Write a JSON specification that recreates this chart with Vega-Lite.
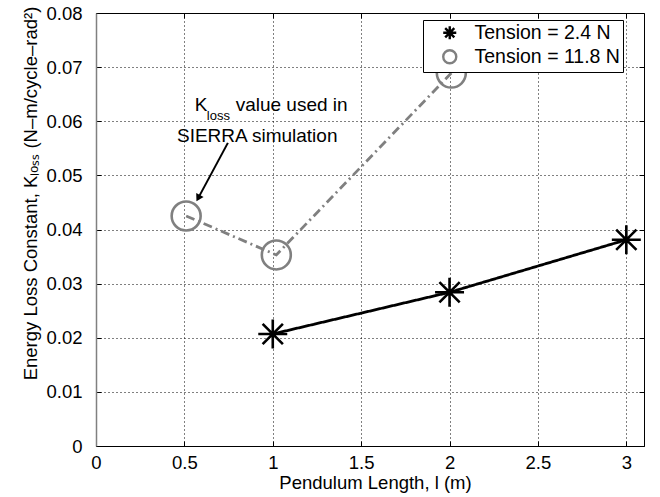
{
  "$schema": "https://vega.github.io/schema/vega-lite/v6.json",
  "autosize": {"type": "none"},
  "width": 548,
  "height": 433,
  "padding": {"left": 96, "top": 13, "right": 16, "bottom": 51},
  "background": "white",
  "config": {
    "font": "Liberation Sans",
    "view": {"stroke": "black", "strokeWidth": 1},
    "axis": {
      "labelFont": "Liberation Sans",
      "titleFont": "Liberation Sans",
      "labelFontSize": 18.5,
      "titleFontSize": 18.5,
      "labelColor": "black",
      "titleColor": "black",
      "titleFontWeight": "normal",
      "domainColor": "black",
      "tickColor": "black",
      "tickWidth": 1,
      "gridColor": "black",
      "gridDash": [1, 3],
      "gridOpacity": 1,
      "gridWidth": 1
    },
    "legend": {
      "title": null,
      "orient": "none",
      "legendX": 327,
      "legendY": 7,
      "fillColor": "white",
      "strokeColor": "black",
      "padding": 3,
      "rowPadding": 0,
      "labelFont": "Liberation Sans",
      "labelFontSize": 19.5,
      "labelColor": "black",
      "labelOffset": 15,
      "symbolOffset": 14,
      "symbolSize": 170,
      "symbolStrokeWidth": 2.4
    }
  },
  "datasets": {
    "measurements": [
      {"length": 1, "kloss": 0.0207, "series": "Tension = 2.4 N"},
      {"length": 2, "kloss": 0.0284, "series": "Tension = 2.4 N"},
      {"length": 3, "kloss": 0.0381, "series": "Tension = 2.4 N"},
      {"length": 0.51, "kloss": 0.0425, "series": "Tension = 11.8 N"},
      {"length": 1.02, "kloss": 0.0353, "series": "Tension = 11.8 N"},
      {"length": 2.01, "kloss": 0.0689, "series": "Tension = 11.8 N"}
    ],
    "notes": [
      {"x": 0.559, "y": 0.0619, "text": "K"},
      {"x": 0.79, "y": 0.0619, "text": "value used in"}
    ],
    "subscript": [
      {"x": 0.627, "y": 0.0603, "text": "loss"}
    ],
    "notes2": [
      {"x": 0.912, "y": 0.0562, "text": "SIERRA simulation"}
    ],
    "arrow": [
      {"x": 0.746, "y": 0.056, "x2": 0.578, "y2": 0.0458}
    ]
  },
  "layer": [
    {
      "data": {"name": "measurements"},
      "mark": {"type": "line", "strokeWidth": 2.8},
      "encoding": {
        "x": {
          "field": "length", "type": "quantitative",
          "scale": {"domain": [0, 3.1], "nice": false, "zero": false},
          "axis": {
            "orient": "bottom",
            "values": [0, 0.5, 1, 1.5, 2, 2.5, 3],
            "format": "~g",
            "grid": true,
            "ticks": true,
            "tickSize": -5,
            "labelPadding": 12,
            "labelFlush": false,
            "title": "Pendulum Length, l (m)",
            "titleX": 279,
            "titlePadding": 2
          }
        },
        "y": {
          "field": "kloss", "type": "quantitative",
          "scale": {"domain": [0, 0.08], "nice": false},
          "axis": {
            "orient": "left",
            "values": [0, 0.01, 0.02, 0.03, 0.04, 0.05, 0.06, 0.07, 0.08],
            "labelExpr": "datum.value === 0 ? '0' : format(datum.value, '.2f')",
            "grid": true,
            "ticks": true,
            "tickSize": -5,
            "labelPadding": 19,
            "labelFlush": false,
            "domainColor": "#808080",
            "domainWidth": 1.5,
            "title": "Energy Loss Constant, Kₗₒₛₛ (N–m/cycle–rad²)",
            "titleX": -60,
            "titleY": 180,
            "titleAlign": "center",
            "titleBaseline": "alphabetic",
            "titleAngle": -90
          }
        },
        "stroke": {
          "field": "series", "type": "nominal",
          "scale": {"range": ["#808080", "black"]},
          "legend": null
        },
        "strokeDash": {
          "field": "series", "type": "nominal",
          "scale": {"range": [[9, 4, 2, 4], [1, 0]]},
          "legend": null
        }
      }
    },
    {
      "data": {"name": "measurements"},
      "mark": {"type": "point", "filled": false, "strokeWidth": 2.6, "size": 840, "opacity": 1},
      "encoding": {
        "x": {"field": "length", "type": "quantitative", "axis": null},
        "y": {"field": "kloss", "type": "quantitative", "axis": null},
        "color": {
          "field": "series", "type": "nominal",
          "scale": {"domain": ["Tension = 2.4 N", "Tension = 11.8 N"], "range": ["black", "#808080"]},
          "legend": {}
        },
        "shape": {
          "field": "series", "type": "nominal",
          "scale": {"domain": ["Tension = 2.4 N", "Tension = 11.8 N"], "range": ["M-1,0L1,0M0,-1L0,1M-0.7,-0.7L0.7,0.7M-0.7,0.7L0.7,-0.7", "circle"]},
          "legend": {}
        }
      }
    },
    {
      "data": {"name": "notes"},
      "mark": {"type": "text", "align": "left", "baseline": "alphabetic", "font": "Liberation Sans", "fontSize": 19, "color": "black"},
      "encoding": {
        "x": {"field": "x", "type": "quantitative", "axis": null},
        "y": {"field": "y", "type": "quantitative", "axis": null},
        "text": {"field": "text"}
      }
    },
    {
      "data": {"name": "subscript"},
      "mark": {"type": "text", "align": "left", "baseline": "alphabetic", "font": "Liberation Sans", "fontSize": 13, "color": "black"},
      "encoding": {
        "x": {"field": "x", "type": "quantitative", "axis": null},
        "y": {"field": "y", "type": "quantitative", "axis": null},
        "text": {"field": "text"}
      }
    },
    {
      "data": {"name": "notes2"},
      "mark": {"type": "text", "align": "center", "baseline": "alphabetic", "font": "Liberation Sans", "fontSize": 19, "color": "black"},
      "encoding": {
        "x": {"field": "x", "type": "quantitative", "axis": null},
        "y": {"field": "y", "type": "quantitative", "axis": null},
        "text": {"field": "text"}
      }
    },
    {
      "data": {"name": "arrow"},
      "mark": {"type": "rule", "color": "black", "strokeWidth": 2},
      "encoding": {
        "x": {"field": "x", "type": "quantitative", "axis": null},
        "y": {"field": "y", "type": "quantitative", "axis": null},
        "x2": {"field": "x2"},
        "y2": {"field": "y2"}
      }
    },
    {
      "data": {"name": "arrow"},
      "mark": {"type": "point", "shape": "triangle-down", "filled": true, "color": "black", "size": 70, "angle": 28.5, "opacity": 1},
      "encoding": {
        "x": {"field": "x2", "type": "quantitative", "axis": null},
        "y": {"field": "y2", "type": "quantitative", "axis": null}
      }
    },
    {
      "data": {"name": "measurements"},
      "mark": {"type": "point", "opacity": 0},
      "encoding": {
        "x": {
          "field": "length", "type": "quantitative",
          "axis": {"orient": "top", "values": [0, 0.5, 1, 1.5, 2, 2.5, 3], "labels": false, "grid": false, "domain": false, "ticks": true, "tickSize": -5, "title": null}
        },
        "y": {
          "field": "kloss", "type": "quantitative",
          "axis": {"orient": "right", "values": [0, 0.01, 0.02, 0.03, 0.04, 0.05, 0.06, 0.07, 0.08], "labels": false, "grid": false, "domain": false, "ticks": true, "tickSize": -5, "title": null}
        }
      }
    }
  ],
  "resolve": {"axis": {"x": "independent", "y": "independent"}}
}
